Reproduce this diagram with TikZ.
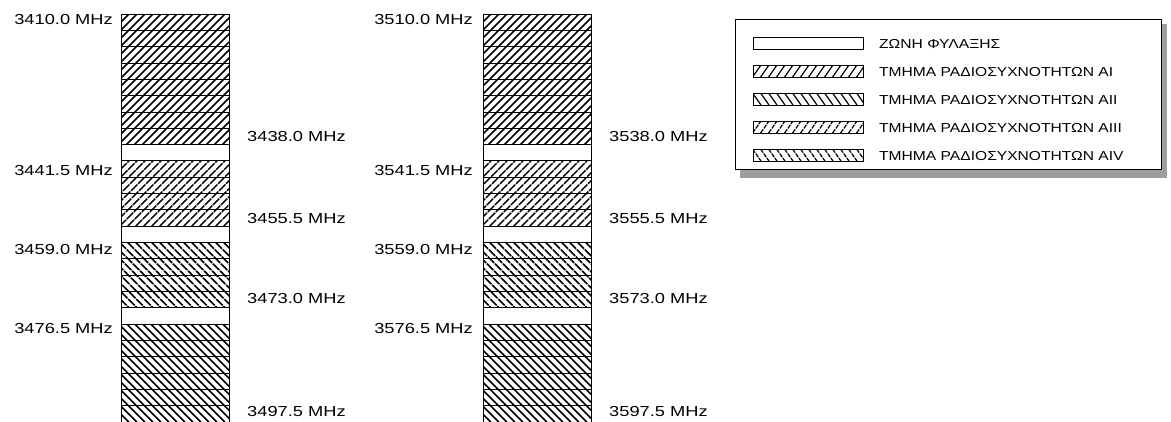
\documentclass[tikz,border=0pt]{standalone}
\usepackage{fontspec}
\setmainfont{Liberation Sans}
\newfontfamily\labfont{Liberation Sans}[FakeStretch=1.26]
\newfontfamily\legfont{Liberation Sans}[FakeStretch=1.2]
\tikzset{
 lab/.style={font=\labfont\fontsize{14.5}{16}\selectfont, inner sep=0pt},
 leg/.style={font=\legfont\fontsize{13}{15}\selectfont, inner sep=0pt},
 hl/.style={line width=1.5pt, black},
 hld/.style={line width=1.5pt, black, dash pattern=on 9pt off 1pt},
 hls/.style={line width=1.2pt, black},
 hlsd/.style={line width=1.2pt, black, dash pattern=on 4.5pt off 1pt},
 cell/.style={line width=0.8pt, black},
}
\newcommand\hatchzone[8]{%
\begin{scope}
\clip (#1,#2) rectangle (#3,#4);
\pgfmathsetmacro\hh{#4-#2}
\pgfmathsetmacro\hw{(#4-#2)*#8}
\foreach \i in {0,...,70}{
 \ifnum#6=1
  \draw[#5] ({#1-\hw+\i*#7},#4) -- ++(\hw,-\hh);
 \else
  \draw[#5] ({#1-\hw+\i*#7},#2) -- ++(\hw,\hh);
 \fi
}
\end{scope}}
\newcommand\bandcol[1]{%
 \pgfmathsetmacro\xr{#1+108}
 \hatchzone{#1}{14}{\xr}{144.56}{hl}{1}{8}{1}
 \hatchzone{#1}{160.88}{\xr}{226.16}{hld}{1}{8}{1}
 \hatchzone{#1}{242.48}{\xr}{307.76}{hld}{-1}{8}{1}
 \hatchzone{#1}{324.08}{\xr}{422.2}{hl}{-1}{8}{1}
 \foreach \k in {0,...,25} \draw[cell] (#1,{14+16.32*\k}) -- (\xr,{14+16.32*\k});
 \draw[cell] (#1,14) -- (#1,425) (\xr,14) -- (\xr,425);
}
\begin{document}
\begin{tikzpicture}[x=1pt,y=-1pt]
\useasboundingbox (0,0) rectangle (1171,421);
\fill[white] (0,0) rectangle (1171,421);
% columns
\bandcol{121}
\bandcol{483}
% left column labels
\node[lab,anchor=east] (a1) at (113,20) {3410.0 MHz};
\node[lab,anchor=east] (a2) at (113,171) {3441.5 MHz};
\node[lab,anchor=east] (a3) at (113,250) {3459.0 MHz};
\node[lab,anchor=east] (a4) at (113,329) {3476.5 MHz};
\node[lab,anchor=west] (b1) at (247,137) {3438.0 MHz};
\node[lab,anchor=west] (b2) at (247,219) {3455.5 MHz};
\node[lab,anchor=west] (b3) at (247,299) {3473.0 MHz};
\node[lab,anchor=west] (b4) at (247,412) {3497.5 MHz};
% middle column labels
\node[lab,anchor=east] (c1) at (473,20) {3510.0 MHz};
\node[lab,anchor=east] (c2) at (473,171) {3541.5 MHz};
\node[lab,anchor=east] (c3) at (473,250) {3559.0 MHz};
\node[lab,anchor=east] (c4) at (473,329) {3576.5 MHz};
\node[lab,anchor=west] (d1) at (609,137) {3538.0 MHz};
\node[lab,anchor=west] (d2) at (609,219) {3555.5 MHz};
\node[lab,anchor=west] (d3) at (609,299) {3573.0 MHz};
\node[lab,anchor=west] (d4) at (609,412) {3597.5 MHz};
% legend
\fill[black!38] (740,169) rectangle (1167,178);
\fill[black!38] (1161,24) rectangle (1167,178);
\draw[line width=0.8pt, fill=white] (735,19) rectangle (1161,169);
\draw[cell] (753,37) rectangle (863,49);
\hatchzone{753}{65}{863}{77}{hls}{1}{8}{0.7}
\draw[cell] (753,65) rectangle (863,77);
\hatchzone{753}{93}{863}{105}{hls}{-1}{8}{0.7}
\draw[cell] (753,93) rectangle (863,105);
\hatchzone{753}{121}{863}{133}{hlsd}{1}{8}{0.7}
\draw[cell] (753,121) rectangle (863,133);
\hatchzone{753}{149}{863}{161}{hlsd}{-1}{8}{0.7}
\draw[cell] (753,149) rectangle (863,161);
\node[leg,anchor=west] (g0) at (879,44) {ΖΩΝΗ ΦΥΛΑΞΗΣ};
\node[leg,anchor=west] (g1) at (879,72) {ΤΜΗΜΑ ΡΑΔΙΟΣΥΧΝΟΤΗΤΩΝ AI};
\node[leg,anchor=west] (g2) at (879,100) {ΤΜΗΜΑ ΡΑΔΙΟΣΥΧΝΟΤΗΤΩΝ AII};
\node[leg,anchor=west] (g3) at (879,128) {ΤΜΗΜΑ ΡΑΔΙΟΣΥΧΝΟΤΗΤΩΝ AIII};
\node[leg,anchor=west] (g4) at (879,156) {ΤΜΗΜΑ ΡΑΔΙΟΣΥΧΝΟΤΗΤΩΝ AIV};
\end{tikzpicture}
\end{document}
